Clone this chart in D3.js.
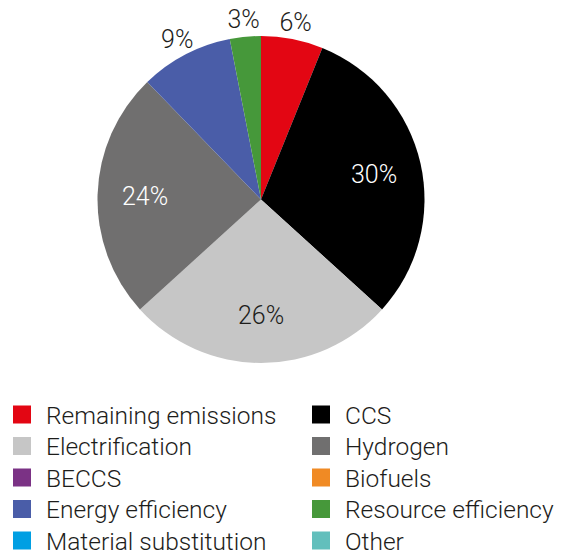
<!DOCTYPE html>
<html>
<head>
<meta charset="utf-8">
<script src="https://cdn.jsdelivr.net/npm/d3@7"></script>
<style>
  html, body { margin: 0; padding: 0; background: #fff; }
  svg text { font-family: Roboto, "Liberation Sans", sans-serif; font-weight: 300; }
</style>
</head>
<body>
<svg id="chart" width="566" height="555"></svg>
<script>
// Abatement levers, share of total (%)
const categories = [
  "Remaining emissions", "CCS", "Electrification", "Hydrogen", "BECCS",
  "Biofuels", "Energy efficiency", "Resource efficiency", "Material substitution", "Other"
];
const values = [6, 30, 26, 24, 0, 0, 9, 3, 0, 0];
const colors = [
  "#e30613", "#000000", "#c6c6c6", "#706f6f", "#7b3285",
  "#f08a24", "#4a5da8", "#46983a", "#009fe3", "#62bfbc"
];
// slices whose label sits outside the pie
const outsideLabels = ["Remaining emissions", "Energy efficiency", "Resource efficiency"];
// white labels on dark slices
const darkSlices = ["CCS", "Hydrogen"];

const data = categories.map((c, i) => ({ name: c, value: values[i], color: colors[i] }));

const svg = d3.select("#chart");
const cx = 261, cy = 199.5, R = 163.5;
const labelSize = 25, legendSize = 24.5;

const pie = d3.pie().sort(null).value(d => d.value);
const arcs = pie(data).filter(a => a.data.value > 0);

const arc = d3.arc().innerRadius(0).outerRadius(R);
const inLabel = d3.arc().innerRadius(116).outerRadius(116);
const outLabel = d3.arc().innerRadius(181).outerRadius(181);

const g = svg.append("g").attr("transform", `translate(${cx},${cy})`);

g.selectAll("path.slice")
  .data(arcs)
  .join("path")
  .attr("class", "slice")
  .attr("d", arc)
  .attr("fill", d => d.data.color);

// percentage labels, cap height centred on the label point
g.selectAll("text.lbl")
  .data(arcs)
  .join("text")
  .attr("class", "lbl")
  .attr("transform", d => {
    const p = (outsideLabels.includes(d.data.name) ? outLabel : inLabel).centroid(d);
    return `translate(${p[0]},${p[1] + labelSize * 0.355})`;
  })
  .attr("text-anchor", "middle")
  .attr("font-size", labelSize)
  .attr("fill", d => darkSlices.includes(d.data.name) ? "#ffffff" : "#1d1d1b")
  .text(d => d3.format(".0f")(d.data.value) + "%");

// Legend: two columns, row-major order
const legend = svg.append("g");
const colX = d3.scaleOrdinal().domain([0, 1]).range([13, 312]);
const rowY = d3.scaleLinear().domain([0, 1]).range([414.5, 446]);
const box = 18;

const items = legend.selectAll("g.item")
  .data(data)
  .join("g")
  .attr("class", "item")
  .attr("transform", (d, i) => `translate(${colX(i % 2)},${rowY(Math.floor(i / 2))})`);

items.append("rect")
  .attr("x", 0).attr("y", -box / 2)
  .attr("width", box).attr("height", box)
  .attr("fill", d => d.color);

items.append("text")
  .attr("x", 33)
  .attr("y", box / 2)
  .attr("font-size", legendSize)
  .attr("fill", "#1d1d1b")
  .text(d => d.name);
</script>
</body>
</html>
